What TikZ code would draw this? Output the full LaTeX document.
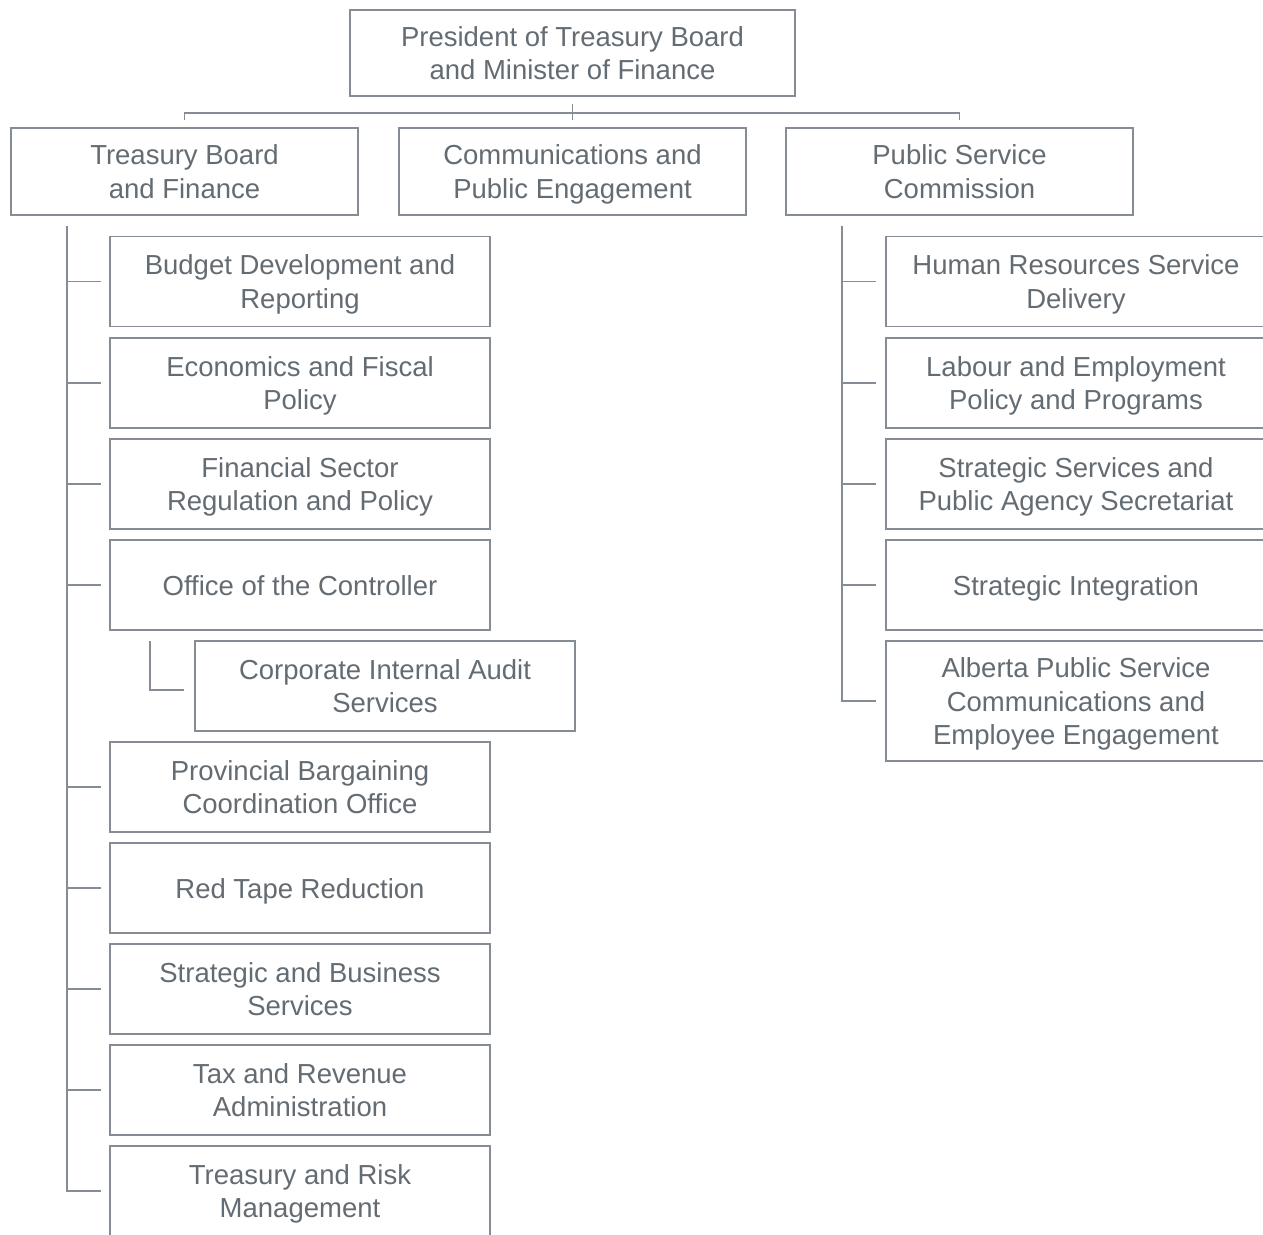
\documentclass[tikz,border=0pt]{standalone}
\usepackage{fontspec}
\setmainfont{Liberation Sans}
\definecolor{textgray}{HTML}{646C73}
\definecolor{linegray}{HTML}{858C93}
\newcommand\mytopst{\rule{0pt}{26pt}}
\newcommand\mybotst{\rule[-6pt]{0pt}{6pt}}
\begin{document}
\begin{tikzpicture}[x=1pt,y=-1pt,
  box/.style={draw=linegray, line width=1.3pt, text=textgray,
    font=\fontsize{27.5}{33.5}\selectfont, align=center,
    inner sep=0pt, minimum width=380pt, minimum height=90pt},
  headbox/.style={box, minimum width=347pt, minimum height=87pt},
  conn/.style={draw=linegray, line width=1.3pt}]
\useasboundingbox (0,0) rectangle (1263,1234);
\clip (0,0) rectangle (1263,1234);
\fill[white] (0,0) rectangle (1263,1234);

% top
\node[box, minimum width=445pt, minimum height=86pt] (top) at (572.5,53) {\mytopst President of Treasury Board\\and Minister of Finance\mybotst};
\node[headbox] (tbf) at (184.5,171.5) {\mytopst Treasury Board\\and Finance\mybotst};
\node[headbox] (cpe) at (572.5,171.5) {\mytopst Communications and\\Public Engagement\mybotst};
\node[headbox] (psc) at (959.5,171.5) {\mytopst Public Service\\Commission\mybotst};

% left column
\node[box] (b1) at (300,281.5) {\mytopst Budget Development and\\Reporting\mybotst};
\node[box] (b2) at (300,383) {\mytopst Economics and Fiscal\\Policy\mybotst};
\node[box] (b3) at (300,484) {\mytopst Financial Sector\\Regulation and Policy\mybotst};
\node[box] (b4) at (300,585) {\mytopst Office of the Controller\mybotst};
\node[box] (b4a) at (385,686) {\mytopst Corporate Internal Audit\\Services\mybotst};
\node[box] (b5) at (300,787) {\mytopst Provincial Bargaining\\Coordination Office\mybotst};
\node[box] (b6) at (300,888) {\mytopst Red Tape Reduction\mybotst};
\node[box] (b7) at (300,989) {\mytopst Strategic and Business\\Services\mybotst};
\node[box] (b8) at (300,1090) {\mytopst Tax and Revenue\\Administration\mybotst};
\node[box] (b9) at (300,1191) {\mytopst Treasury and Risk\\Management\mybotst};

% right column
\node[box] (r1) at (1076,281.5) {\mytopst Human Resources Service\\Delivery\mybotst};
\node[box] (r2) at (1076,383) {\mytopst Labour and Employment\\Policy and Programs\mybotst};
\node[box] (r3) at (1076,484) {\mytopst Strategic Services and\\Public Agency Secretariat\mybotst};
\node[box] (r4) at (1076,585) {\mytopst Strategic Integration\mybotst};
\node[box, minimum height=120pt] (r5) at (1076,701) {\mytopst Alberta Public Service\\Communications and\\Employee Engagement\mybotst};

% helper coordinates
\coordinate (ytick) at (0,104);
\coordinate (ybar) at (0,113);
\coordinate (ydrop) at (0,120);
\coordinate (ltop) at (67,226);
\coordinate (rtop) at (842,226);
\coordinate (ctop) at (150,641);

% top connectors
\draw[conn] (top.south |- ytick) -- (top.south |- ydrop);
\draw[conn] (tbf.north |- ydrop) -- (tbf.north |- ybar) -- (psc.north |- ybar) -- (psc.north |- ydrop);

% left trunk
\foreach \n in {b1,b2,b3,b4,b5,b6,b7,b8,b9}
  \draw[conn] (ltop) |- ([xshift=-8pt]\n.west);
% corporate audit
\draw[conn] (ctop) |- ([xshift=-10pt,yshift=-4pt]b4a.west);
% right trunk
\foreach \n in {r1,r2,r3,r4,r5}
  \draw[conn] (rtop) |- ([xshift=-9pt]\n.west);
\end{tikzpicture}
\end{document}
